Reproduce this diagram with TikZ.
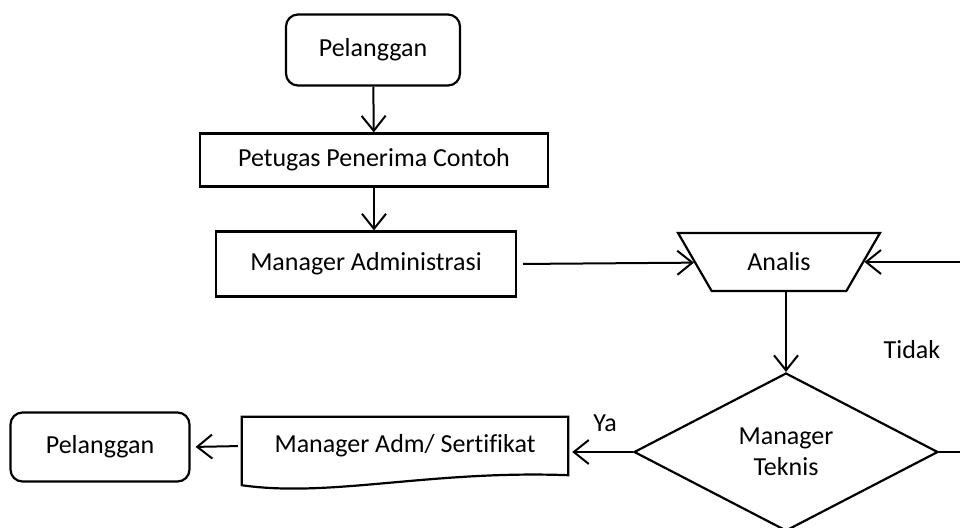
\documentclass[tikz,border=0pt]{standalone}
\usepackage{fontspec}
\setmainfont{Carlito}[Ligatures=NoCommon]
\usetikzlibrary{shapes.geometric,arrows.meta,positioning}

\begin{document}
\begin{tikzpicture}[x=1pt,y=-1pt,
                every node/.style={font=\fontsize{26}{31}\selectfont},
                terminal/.style={draw,line width=2.2pt,rounded corners=12pt},
                proses/.style={draw,line width=2.2pt},
                panah/.style={-{Straight Barb[length=15pt,width=24pt]},line width=2pt}]
                \useasboundingbox (0,0) rectangle (960,527);
                \clip (0,0) rectangle (960,527);

                \node[terminal,minimum width=174pt,minimum height=71pt] (pelanggan) at (373,50) {Pelanggan};
                \node[proses,minimum width=348pt,minimum height=53pt] (petugas) at (374,160) {Petugas Penerima Contoh};
                \node[proses,minimum width=300pt,minimum height=65pt] (manadm) at (366,264) {Manager Administrasi};
                \node[trapezium,shape border rotate=180,trapezium angle=55,trapezium stretches=true,
                      minimum width=202pt,minimum height=58pt,draw,line width=2.2pt] (analis) at (779,262) {Analis};
                \node[diamond,draw,line width=2.2pt,inner sep=0pt,align=center,
                      minimum width=304pt,minimum height=158pt] (mantek) at (786,452) {Manager\\Teknis};
                \node[minimum width=326pt,minimum height=58pt] (sertifikat) at (405,446) {Manager Adm/ Sertifikat};
                \node[terminal,minimum width=179pt,minimum height=69pt] (pelanggan2) at (100,447) {Pelanggan};

                % dokumen
                \draw[line width=2.2pt] (sertifikat.north west) -- (sertifikat.north east) -- (sertifikat.south east)
                      .. controls (430,470) and (330,498) .. ([yshift=-10pt]sertifikat.south west) -- cycle;

                \draw[panah] (pelanggan) -- (petugas);
                \draw[panah] (petugas.south) -- (petugas.south |- manadm.north);
                \draw[panah,shorten <=6pt] (manadm.east) -- (analis);
                \draw[panah] (mantek.north |- analis.south) -- (mantek.north);
                \draw[panah] (mantek.east) -- ++(60,0) |- (analis);
                \draw[panah,shorten >=4pt] (mantek.west) -- (mantek.west -| sertifikat.east);
                \draw[panah,shorten <=4pt,shorten >=5pt] (sertifikat.west) -- (pelanggan2.east);

                \node (ya) at (605,423) {Ya};
                \node (tidak) at (912,350) {Tidak};
            \end{tikzpicture}
\end{document}
